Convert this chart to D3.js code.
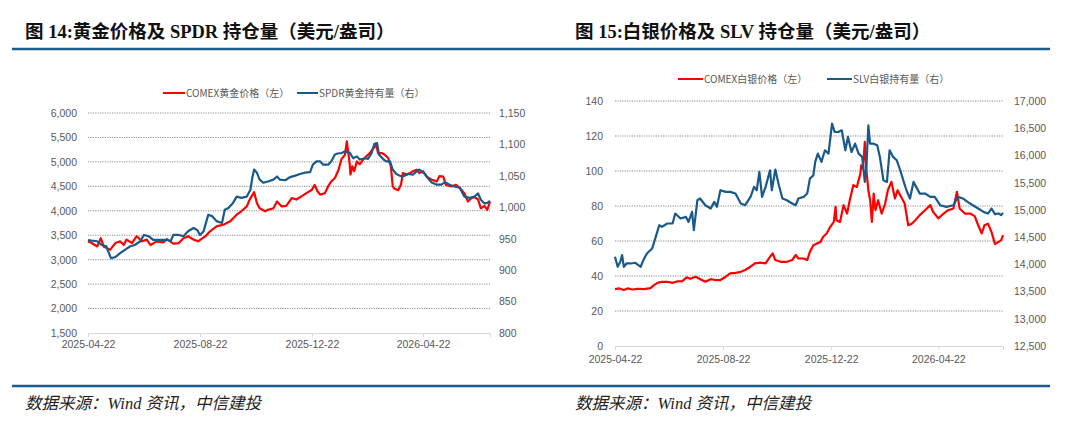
<!DOCTYPE html>
<html>
<head>
<meta charset="utf-8">
<script src="https://cdn.jsdelivr.net/npm/d3@7"></script>
<style>
  body { margin: 0; background: #fff; }
  svg { display: block; }
  .tick-label { font-family: "Liberation Sans", Arial, sans-serif; font-size: 10.5px; fill: #595959; }
  .legend-text { font-family: "Noto Sans CJK SC", sans-serif; font-size: 10px; fill: #595959; }
  .title { font-family: "Liberation Serif", "Noto Sans CJK SC", serif; font-size: 18.5px; font-weight: bold; fill: #111; }
  .source { font-family: "Liberation Serif", "Noto Sans CJK SC", serif; font-size: 16.5px; font-style: italic; fill: #222; }
</style>
</head>
<body>
<svg id="chart" width="1080" height="429"></svg>
<script>
// ---------------------------------------------------------------------------
// Data: [days since 2025-04-22, value]
// ---------------------------------------------------------------------------
const START_DATE = new Date(2025, 3, 22);
const END_DAY = 438;
const DATE_TICKS = ["2025-04-22", "2025-08-22", "2025-12-22", "2026-04-22"];

// COMEX gold price (USD/oz, left axis)
const goldPrice = [
    [0, 3375], [4, 3340], [10, 3270], [14, 3440], [17, 3270], [24, 3200], [30, 3340],
    [35, 3375], [39, 3300], [42, 3410], [48, 3340], [53, 3480], [59, 3375], [64, 3410],
    [68, 3300], [75, 3375], [82, 3355], [86, 3420], [93, 3330], [99, 3340], [104, 3440],
    [109, 3480], [115, 3410], [120, 3375], [128, 3480], [133, 3580], [140, 3680], [148, 3720],
    [155, 3785], [162, 3920], [167, 3990], [173, 4090], [177, 4260], [181, 4380], [184, 4160],
    [187, 4050], [193, 3990], [196, 4020], [202, 4050], [206, 4190], [211, 4090], [216, 4100],
    [222, 4260], [227, 4230], [233, 4300], [238, 4360], [244, 4430], [247, 4530], [250, 4400],
    [253, 4330], [258, 4360], [262, 4510], [265, 4600], [269, 4670], [273, 4840], [276, 5050],
    [280, 5150], [282, 5420], [285, 4980], [286, 4740], [288, 4910], [290, 4810], [293, 5010],
    [296, 4950], [300, 5050], [303, 5110], [307, 5180], [311, 5280], [314, 5350], [316, 5180],
    [320, 5180], [323, 5150], [327, 5080], [330, 4910], [332, 4500], [334, 4450], [338, 4420],
    [341, 4530], [343, 4770], [347, 4740], [351, 4770], [354, 4810], [358, 4840], [361, 4770],
    [365, 4810], [369, 4700], [374, 4640], [380, 4600], [383, 4710], [387, 4700], [390, 4530],
    [396, 4500], [401, 4530], [405, 4470], [410, 4360], [414, 4190], [418, 4260], [421, 4280],
    [425, 4230], [428, 4050], [432, 4100], [435, 4020], [438, 4190]
];

// SPDR gold holdings (tonnes, right axis)
const spdrHoldings = [
    [0, 948], [4, 947], [10, 946], [15, 940], [20, 938], [22, 930], [25, 919], [30, 921],
    [35, 927], [41, 933], [46, 938], [51, 940], [57, 946], [61, 956], [66, 954], [71, 948],
    [79, 948], [86, 948], [90, 946], [93, 956], [99, 956], [104, 954], [109, 962], [115, 967],
    [119, 964], [122, 956], [126, 962], [131, 988], [135, 986], [140, 978], [146, 975],
    [149, 996], [153, 999], [158, 1007], [162, 1017], [167, 1015], [173, 1017], [177, 1028],
    [179, 1047], [181, 1060], [184, 1055], [187, 1044], [191, 1039], [196, 1041], [202, 1044],
    [206, 1049], [209, 1044], [215, 1043], [220, 1048], [225, 1050], [231, 1053], [236, 1055],
    [242, 1056], [245, 1068], [249, 1073], [253, 1073], [256, 1068], [262, 1068], [265, 1073],
    [269, 1084], [273, 1086], [276, 1086], [280, 1089], [285, 1087], [289, 1078], [293, 1081],
    [296, 1076], [302, 1078], [305, 1077], [309, 1086], [312, 1101], [315, 1102], [317, 1084],
    [322, 1076], [325, 1073], [329, 1073], [332, 1060], [336, 1053], [340, 1050], [343, 1049],
    [349, 1053], [354, 1052], [358, 1057], [361, 1060], [367, 1053], [370, 1047], [374, 1040],
    [380, 1036], [385, 1036], [389, 1040], [394, 1036], [399, 1033], [405, 1031], [410, 1017],
    [416, 1015], [421, 1017], [425, 1022], [428, 1012], [432, 1006], [435, 1007], [438, 1010]
];

// COMEX silver price (USD/oz, left axis)
const silverPrice = [
    [0, 32.5], [5, 32.9], [10, 32.0], [14, 32.9], [20, 32.3], [25, 32.7], [33, 32.5], [40, 33.1],
    [44, 34.8], [48, 36.1], [53, 36.7], [59, 36.7], [65, 36.1], [70, 36.9], [76, 37.1], [81, 39.2],
    [85, 38.4], [91, 39.6], [97, 38.0], [102, 36.7], [108, 38.2], [113, 37.7], [119, 37.7],
    [125, 39.6], [130, 41.5], [136, 41.8], [142, 42.4], [147, 43.4], [153, 45.3], [158, 47.2],
    [164, 47.6], [170, 47.2], [175, 51.0], [178, 52.9], [181, 49.1], [187, 48.1], [194, 48.1],
    [200, 49.1], [204, 52.0], [207, 50.0], [213, 50.0], [217, 49.1], [220, 53.8], [224, 57.6],
    [228, 58.6], [232, 59.5], [235, 62.4], [239, 64.3], [243, 68.1], [247, 70.9], [249, 79.5],
    [250, 71.9], [254, 70.9], [258, 80.5], [262, 75.7], [265, 83.3], [269, 91.9], [273, 90.9],
    [277, 98.5], [278, 103.3], [280, 101.4], [282, 116.6], [284, 99.5], [286, 89.0], [288, 83.3],
    [290, 70.9], [292, 87.1], [294, 77.6], [297, 83.3], [301, 75.7], [305, 81.4], [308, 89.0],
    [312, 93.8], [316, 84.3], [319, 89.0], [323, 85.2], [327, 81.4], [331, 69.0], [335, 69.9],
    [339, 71.9], [344, 74.8], [350, 77.6], [356, 80.5], [359, 76.7], [365, 72.9], [371, 75.7],
    [376, 77.6], [382, 78.6], [386, 88.1], [389, 78.6], [395, 75.7], [401, 75.7], [406, 74.2],
    [410, 69.0], [414, 64.3], [417, 69.0], [421, 69.9], [425, 65.2], [429, 58.2], [433, 59.5],
    [436, 60.5], [438, 63.3]
];

// SLV silver holdings (tonnes, right axis)
const slvHoldings = [
    [0, 14139], [3, 13955], [6, 14047], [8, 14169], [10, 13955], [13, 14016], [18, 14016],
    [23, 14029], [29, 13955], [32, 14077], [36, 14200], [42, 14292], [46, 14505], [50, 14719],
    [53, 14689], [59, 14750], [65, 14750], [68, 14933], [74, 14842], [80, 14872], [83, 14780],
    [87, 14964], [89, 14628], [93, 15178], [96, 15209], [102, 15086], [108, 15025], [112, 15147],
    [115, 15056], [119, 15361], [125, 15331], [130, 15331], [136, 15300], [142, 15117],
    [147, 15086], [153, 15239], [157, 15423], [160, 15361], [163, 15698], [166, 15239],
    [170, 15423], [175, 15728], [177, 15361], [181, 15741], [185, 15453], [189, 15209],
    [194, 15178], [200, 15117], [204, 15086], [207, 15209], [213, 15239], [217, 15300],
    [220, 15575], [224, 15637], [226, 15881], [229, 16034], [233, 15881], [237, 16095],
    [241, 16034], [245, 16584], [248, 16431], [252, 16431], [256, 16462], [260, 16095],
    [263, 16340], [267, 16064], [271, 16217], [275, 16034], [279, 15973], [282, 15514],
    [284, 15851], [286, 16554], [288, 16217], [292, 16217], [296, 16187], [299, 15973],
    [303, 15545], [307, 15514], [310, 16095], [314, 15973], [318, 15912], [322, 15728],
    [326, 15514], [329, 15361], [333, 15209], [337, 15514], [340, 15423], [344, 15300],
    [350, 15300], [356, 15239], [361, 15239], [367, 15086], [374, 15056], [382, 15086],
    [387, 15239], [393, 15209], [398, 15147], [404, 15086], [410, 15025], [416, 14964],
    [421, 14933], [425, 15025], [429, 14921], [433, 14933], [436, 14903], [438, 14946]
];

const goldLeftTicks = [1500, 2000, 2500, 3000, 3500, 4000, 4500, 5000, 5500, 6000];
const goldRightTicks = [800, 850, 900, 950, 1000, 1050, 1100, 1150];
const silverLeftTicks = [0, 20, 40, 60, 80, 100, 120, 140];
const silverRightTicks = [12500, 13000, 13500, 14000, 14500, 15000, 15500, 16000, 16500, 17000];

const RED = "#ff0000";
const BLUE = "#1a5a8a";
const RULE = "#1f5b8c";

// ---------------------------------------------------------------------------
// Panel drawing
// ---------------------------------------------------------------------------
const svg = d3.select("#chart");
const parseDay = d3.timeParse("%Y-%m-%d");
const fmtDay = d3.timeFormat("%Y-%m-%d");
const toDate = d => d3.timeDay.offset(START_DATE, d);

function drawPanel(cfg) {
    const g = svg.append("g");

    const x = d3.scaleTime()
        .domain([START_DATE, toDate(END_DAY)])
        .range([cfg.left, cfg.right]);
    const yL = d3.scaleLinear().domain(d3.extent(cfg.leftTicks)).range([cfg.bottom, cfg.top]);
    const yR = d3.scaleLinear().domain(d3.extent(cfg.rightTicks)).range([cfg.bottom, cfg.top]);

    // dotted gridlines (left-axis ticks)
    g.append("g")
        .selectAll("line")
        .data(cfg.leftTicks.slice(1))
        .join("line")
        .attr("x1", cfg.left).attr("x2", cfg.right)
        .attr("y1", d => yL(d)).attr("y2", d => yL(d))
        .attr("stroke", "#7f7f7f")
        .attr("stroke-width", 0.9)
        .attr("stroke-dasharray", "1.2,1.2");

    // bottom axis
    const xAxis = g.append("g")
        .attr("transform", `translate(0,${cfg.bottom})`)
        .call(d3.axisBottom(x)
            .tickValues(DATE_TICKS.map(parseDay))
            .tickFormat(fmtDay)
            .tickSize(4)
            .tickPadding(2));
    xAxis.select(".domain").attr("stroke", "#d9d9d9");
    xAxis.selectAll(".tick line").attr("stroke", "#d9d9d9");
    xAxis.selectAll(".tick text").attr("class", "tick-label").attr("fill", null)
        .attr("dy", cfg.xLabelDy);

    // left axis
    const leftAxis = g.append("g")
        .attr("transform", `translate(${cfg.left},0)`)
        .call(d3.axisLeft(yL).tickValues(cfg.leftTicks).tickFormat(d3.format(",")).tickSize(0).tickPadding(cfg.leftPad));
    leftAxis.select(".domain").remove();
    leftAxis.selectAll(".tick text").attr("class", "tick-label").attr("fill", null);

    // right axis
    const rightAxis = g.append("g")
        .attr("transform", `translate(${cfg.right},0)`)
        .call(d3.axisRight(yR).tickValues(cfg.rightTicks).tickFormat(d3.format(",")).tickSize(0).tickPadding(cfg.rightPad));
    rightAxis.select(".domain").remove();
    rightAxis.selectAll(".tick text").attr("class", "tick-label").attr("fill", null);

    // series
    const lineL = d3.line().x(d => x(toDate(d[0]))).y(d => yL(d[1]));
    const lineR = d3.line().x(d => x(toDate(d[0]))).y(d => yR(d[1]));

    g.append("path")
        .datum(cfg.leftSeries)
        .attr("d", lineL)
        .attr("fill", "none")
        .attr("stroke", RED)
        .attr("stroke-width", 2.2)
        .attr("stroke-linejoin", "round");

    g.append("path")
        .datum(cfg.rightSeries)
        .attr("d", lineR)
        .attr("fill", "none")
        .attr("stroke", BLUE)
        .attr("stroke-width", 2.2)
        .attr("stroke-linejoin", "round");

    // legend
    const legend = g.append("g");
    cfg.legend.forEach(item => {
        legend.append("line")
            .attr("x1", item.x).attr("x2", item.x + item.w)
            .attr("y1", cfg.legendY).attr("y2", cfg.legendY)
            .attr("stroke", item.color)
            .attr("stroke-width", 2);
        legend.append("text")
            .attr("class", "legend-text")
            .attr("x", item.x + item.w + 1)
            .attr("y", cfg.legendY)
            .attr("dy", "0.35em")
            .text(item.label);
    });

    // title and source
    svg.append("text").attr("class", "title")
        .attr("x", cfg.titleX).attr("y", 38)
        .text(cfg.title);
    svg.append("text").attr("class", "source")
        .attr("x", cfg.titleX).attr("y", 409)
        .text("数据来源：Wind 资讯，中信建投");
}

drawPanel({
    left: 88, right: 490, top: 113, bottom: 333,
    leftTicks: goldLeftTicks, rightTicks: goldRightTicks,
    leftSeries: goldPrice, rightSeries: spdrHoldings,
    leftPad: 11, rightPad: 9, xLabelDy: "0.86em",
    legendY: 93,
    legend: [
        { x: 163, w: 22, color: RED, label: "COMEX黄金价格（左）" },
        { x: 297, w: 21, color: BLUE, label: "SPDR黄金持有量（右）" }
    ],
    titleX: 25,
    title: "图 14:黄金价格及 SPDR 持仓量（美元/盎司）"
});

drawPanel({
    left: 615, right: 1003, top: 101, bottom: 346,
    leftTicks: silverLeftTicks, rightTicks: silverRightTicks,
    leftPad: 12, rightPad: 11, xLabelDy: "1.05em",
    leftSeries: silverPrice, rightSeries: slvHoldings,
    legendY: 79,
    legend: [
        { x: 678, w: 25, color: RED, label: "COMEX白银价格（左）" },
        { x: 827, w: 25, color: BLUE, label: "SLV白银持有量（右）" }
    ],
    titleX: 575,
    title: "图 15:白银价格及 SLV 持仓量（美元/盎司）"
});

// horizontal rules under titles and above sources
[49, 386].forEach(y => {
    svg.append("line")
        .attr("x1", 12).attr("x2", 1050)
        .attr("y1", y).attr("y2", y)
        .attr("stroke", RULE)
        .attr("stroke-width", 2.5);
});
</script>
</body>
</html>
